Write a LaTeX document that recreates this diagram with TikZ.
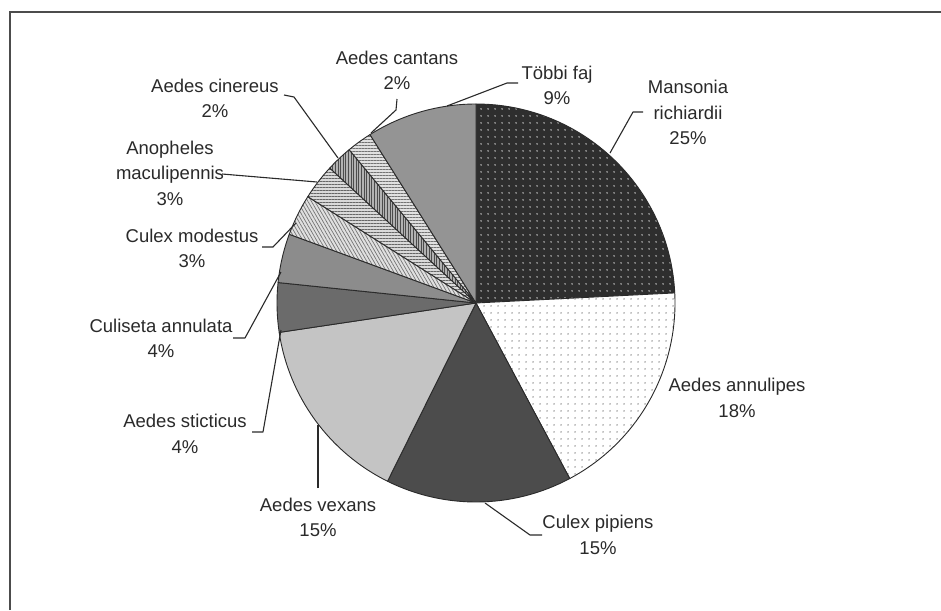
\documentclass[tikz,border=0pt]{standalone}
\usepackage{fontspec}
\setmainfont{Liberation Sans}
\usetikzlibrary{patterns.meta}
\definecolor{ink}{HTML}{2A2A2A}
\begin{document}
\begin{tikzpicture}[x=1pt,y=-1pt,
  lab/.style={align=center,inner sep=0pt,text=ink,font=\fontsize{18.5}{25.5}\selectfont},
  lead/.style={draw=ink,line width=1.1pt,line join=round},
  edge/.style={draw=ink,line width=0.9pt,line join=round},
  sMans/.style={edge,preaction={fill=black!82},pattern={Dots[distance=6.5pt,radius=0.85pt]},pattern color=white!80!black},
  sAnnu/.style={edge,preaction={fill=white},pattern={Dots[distance=6.5pt,radius=0.75pt,xshift=3.25pt]},pattern color=black!70},
  sPip/.style={edge,fill=black!70},
  sVex/.style={edge,fill=black!23},
  sStic/.style={edge,fill=black!58},
  sCuli/.style={edge,fill=black!45},
  sMod/.style={edge,preaction={fill=black!12},pattern={Lines[angle=-60,distance=3pt,line width=0.7pt]},pattern color=black!55},
  sAnop/.style={edge,preaction={fill=black!15},pattern={Lines[angle=0,distance=3pt,line width=0.8pt]},pattern color=black!60},
  sCine/.style={edge,preaction={fill=black!30},pattern={Lines[angle=90,distance=2.6pt,line width=0.9pt]},pattern color=black!70},
  sCant/.style={edge,preaction={fill=black!12},pattern={Lines[angle=0,distance=3pt,line width=0.7pt]},pattern color=black!55},
  sTob/.style={edge,fill=black!42}]
\useasboundingbox (0,0) rectangle (941,610);
\fill[white] (0,0) rectangle (941,610);
% frame
\draw[line width=1.5pt,black!70] (10,610) -- (10,12) -- (941,12);
% pie
\coordinate (C) at (476,303);
\newcommand\pieslice[3]{\path[#1] (C) -- ++(#2:199pt) arc[start angle=#2,end angle=#3,radius=199pt] -- cycle;}
\pieslice{sMans}{2.9}{90}
\pieslice{sAnnu}{-61.9}{2.9}
\pieslice{sPip}{-116.4}{-61.9}
\pieslice{sVex}{-171.5}{-116.4}
\pieslice{sStic}{174.1}{188.5}
\pieslice{sCuli}{159.8}{174.1}
\pieslice{sMod}{147.7}{159.8}
\pieslice{sAnop}{137.3}{147.7}
\pieslice{sCine}{129.6}{137.3}
\pieslice{sCant}{122.2}{129.6}
\pieslice{sTob}{90}{122.2}
% labels
\node[lab] (cant) at (397,70.5) {Aedes cantans\\2\%};
\node[lab] (tob) at (557,85.5) {Többi faj\\9\%};
\node[lab] (mans) at (688,112.5) {Mansonia\\richiardii\\25\%};
\node[lab] (annu) at (737,398) {Aedes annulipes\\18\%};
\node[lab] (pip) at (598,535) {Culex pipiens\\15\%};
\node[lab] (vex) at (318,517.5) {Aedes vexans\\15\%};
\node[lab] (stic) at (185,434) {Aedes sticticus\\4\%};
\node[lab] (culi) at (161,338.5) {Culiseta annulata\\4\%};
\node[lab] (mod) at (192,248.5) {Culex modestus\\3\%};
\node[lab] (anop) at (170,173) {Anopheles\\maculipennis\\3\%};
\node[lab] (cine) at (215,98.5) {Aedes cinereus\\2\%};
% leader points
\coordinate (cine0) at (284,95);  \coordinate (cine1) at (294,97);  \coordinate (cineP) at (338,158);
\coordinate (cant0) at (397,99);  \coordinate (cant1) at (396,110); \coordinate (cantP) at (371,133);
\coordinate (tob0) at (518,83);   \coordinate (tob1) at (507,83);   \coordinate (tobP) at (447,106);
\coordinate (mans0) at (643,112); \coordinate (mans1) at (633,112); \coordinate (mansP) at (610,153);
\coordinate (pip0) at (542,535);  \coordinate (pip1) at (530,535);  \coordinate (pipP) at (485,503);
\coordinate (vex0) at (318,488);  \coordinate (vexP) at (318,425);
\coordinate (stic0) at (252,432); \coordinate (stic1) at (263,432); \coordinate (sticP) at (281,330);
\coordinate (culi0) at (233,338); \coordinate (culi1) at (245,338); \coordinate (culiP) at (281,272);
\coordinate (mod0) at (262,247);  \coordinate (mod1) at (273,247);  \coordinate (modP) at (296,223);
\coordinate (anop0) at (222,174); \coordinate (anopP) at (317,182);
% leaders
\draw[lead] (cine0) -- (cine1) -- (cineP);
\draw[lead] (cant0) -- (cant1) -- (cantP);
\draw[lead] (tob0) -- (tob1) -- (tobP);
\draw[lead] (mans0) -- (mans1) -- (mansP);
\draw[lead] (pip0) -- (pip1) -- (pipP);
\draw[lead] (vex0) -- (vexP);
\draw[lead] (stic0) -- (stic1) -- (sticP);
\draw[lead] (culi0) -- (culi1) -- (culiP);
\draw[lead] (mod0) -- (mod1) -- (modP);
\draw[lead] (anop0) -- (anopP);
\end{tikzpicture}
\end{document}
